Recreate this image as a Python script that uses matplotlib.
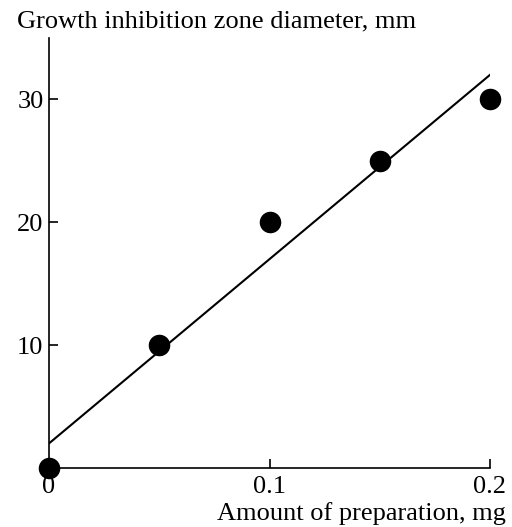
import numpy as np
import matplotlib.pyplot as plt

plt.rcParams['font.family'] = ['Liberation Serif', 'DejaVu Serif']

# data
amount_mg = [0.0, 0.05, 0.1, 0.15, 0.2]
zone_mm = [0, 10, 20, 25, 30]
fit_x = [0.0, 0.2]
fit_y = [2.0, 32.0]

fig = plt.figure(figsize=(5.12, 5.27), dpi=100)
ax = fig.add_axes([49/512, 1 - 468/527, (490 - 49)/512, (468 - 38)/527])

ax.plot(fit_x, fit_y, color='black', lw=1.5)
ax.plot(amount_mg, zone_mm, 'o', color='black', ms=14.5, clip_on=False, zorder=3)

ax.set_xlim(0, 0.2)
ax.set_ylim(0, 35)
ax.set_xticks([0, 0.1, 0.2])
ax.set_xticklabels(['0', '0.1', '0.2'])
ax.set_yticks([10, 20, 30])
ax.tick_params(direction='in', length=6.5, width=1.2, labelsize=19)
ax.tick_params(axis='x', pad=6)
ax.tick_params(axis='y', pad=4)
for s in ['top', 'right']:
    ax.spines[s].set_visible(False)
for s in ['left', 'bottom']:
    ax.spines[s].set_linewidth(1.2)

fig.text(17/512, 1 - 27/527, 'Growth inhibition zone diameter, mm', fontsize=19,
         ha='left', va='baseline')
fig.text(506/512, 1 - 520/527, 'Amount of preparation, mg', fontsize=19,
         ha='right', va='baseline')

fig.savefig('out.png', dpi=100)
